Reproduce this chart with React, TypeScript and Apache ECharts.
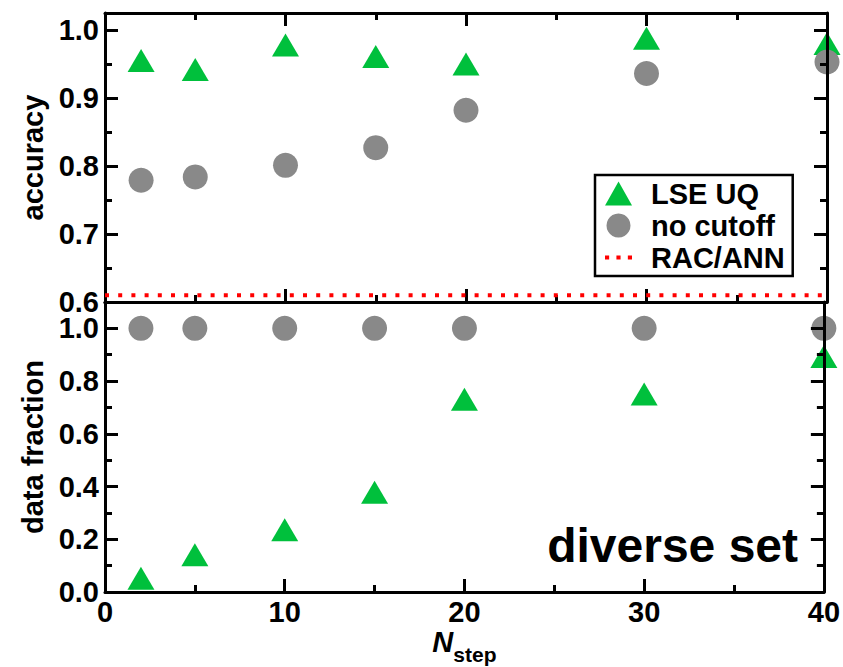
import React, { useEffect, useRef } from "react";
import * as echarts from "echarts";

const nSteps = [2, 5, 10, 15, 20, 30, 40];
const accuracyLSE = [0.955, 0.942, 0.978, 0.961, 0.95, 0.988, 0.98];
const accuracyNoCutoff = [0.779, 0.784, 0.801, 0.827, 0.882, 0.936, 0.953];
const racAnnAccuracy = 0.61;
const fractionLSE = [0.052, 0.141, 0.236, 0.378, 0.731, 0.751, 0.893];
const fractionNoCutoff = [1, 1, 1, 1, 1, 1, 1];
const xRange = [0, 40];

const FONT = "'Liberation Sans', Arial, Helvetica, sans-serif";
const GREEN = "#00c03c";
const GRAY = "#898989";

const pairs = (xs: number[], ys: number[]) => xs.map((x, i) => [x, ys[i]]);

export default function App() {
  const ref = useRef<HTMLDivElement>(null);
  useEffect(() => {
    document.body.style.margin = "0";
    const chart = echarts.init(ref.current!, null, { renderer: "svg" });
    const axisLine = { show: true, onZero: false, lineStyle: { color: "#000", width: 3 } };
    const tick = (show: boolean) => ({
      show,
      inside: true,
      length: 13,
      lineStyle: { color: "#000", width: 3 },
    });
    const minor = (show: boolean) => ({
      show,
      splitNumber: 2,
      length: 7,
      lineStyle: { color: "#000", width: 3 },
    });
    const labelStyle = {
      fontSize: 29,
      fontWeight: "bold" as const,
      fontFamily: FONT,
      color: "#000",
      lineHeight: 20,
    };
    const xBase = (gridIndex: number, position: string, showLabel: boolean, showTick: boolean) => ({
      type: "value" as const,
      gridIndex,
      position,
      min: xRange[0],
      max: xRange[1],
      interval: 10,
      z: 3,
      axisLine,
      axisTick: tick(showTick),
      minorTick: minor(showTick),
      splitLine: { show: false },
      axisLabel: showLabel ? { ...labelStyle, margin: 10 } : { show: false },
    });
    const yBase = (
      gridIndex: number,
      position: string,
      min: number,
      max: number,
      interval: number,
      showLabel: boolean
    ) => ({
      type: "value" as const,
      gridIndex,
      position,
      min,
      max,
      interval,
      z: 3,
      axisLine,
      axisTick: tick(true),
      minorTick: minor(true),
      splitLine: { show: false },
      axisLabel: showLabel
        ? {
            ...labelStyle,
            margin: 6,
            showMaxLabel: false,
            formatter: (v: number) => v.toFixed(1),
          }
        : { show: false },
    });

    const option: any = {
      animation: false,
      backgroundColor: "#fff",
      grid: [
        { left: 105, right: 16, top: 13, height: 289 },
        { left: 105, right: 16, top: 302, height: 290 },
      ],
      xAxis: [
        xBase(0, "bottom", false, true),
        xBase(0, "top", false, true),
        {
          ...xBase(1, "bottom", true, true),
          name: "{n|N}{s|step}",
          nameLocation: "middle",
          nameGap: 35,
          nameTextStyle: {
            rich: {
              n: {
                fontSize: 29,
                fontWeight: "bold",
                fontStyle: "italic",
                fontFamily: FONT,
                color: "#000",
                verticalAlign: "top",
                lineHeight: 30,
              },
              s: {
                fontSize: 21,
                fontWeight: "bold",
                fontFamily: FONT,
                color: "#000",
                verticalAlign: "top",
                lineHeight: 21,
                padding: [17, 0, 0, 0],
              },
            },
          },
        },
        xBase(1, "top", false, false),
      ],
      yAxis: [
        {
          ...yBase(0, "left", 0.6, 1.025, 0.1, true),
          name: "accuracy",
          nameLocation: "middle",
          nameGap: 50,
          nameTextStyle: { ...labelStyle, fontSize: 29, lineHeight: 29 },
        },
        yBase(0, "right", 0.6, 1.025, 0.1, false),
        {
          ...yBase(1, "left", 0, 1.1, 0.2, true),
          name: "data fraction",
          nameLocation: "middle",
          nameGap: 50,
          nameTextStyle: { ...labelStyle, fontSize: 29, lineHeight: 29 },
        },
        yBase(1, "right", 0, 1.1, 0.2, false),
      ],
      legend: {
        orient: "vertical",
        left: 595,
        top: 175,
        data: [
          { name: "LSE UQ", icon: "triangle" },
          { name: "no cutoff", icon: "circle" },
          {
            name: "RAC/ANN",
            icon: "path://M0,0h4v4h-4z M11,0h4v4h-4z M22,0h4v4h-4z",
            itemStyle: { color: "#ff0000" },
          },
        ],
        itemWidth: 27,
        itemHeight: 24,
        itemGap: 3,
        padding: [4, 8, 4, 10],
        borderColor: "#000",
        borderWidth: 2.5,
        borderRadius: 0,
        textStyle: {
          fontSize: 29,
          fontWeight: "bold",
          fontFamily: FONT,
          color: "#000",
          padding: [0, 0, 0, 14],
          lineHeight: 28,
        },
      },
      graphic: [
        {
          type: "text",
          x: 798,
          y: 545,
          z: 10,
          style: {
            text: "diverse set",
            fontSize: 48,
            fontWeight: "bold",
            fontFamily: FONT,
            fill: "#000",
            textAlign: "right",
            textVerticalAlign: "middle",
          },
        },
      ],
      series: [
        {
          name: "RAC/ANN",
          type: "line",
          xAxisIndex: 0,
          yAxisIndex: 0,
          data: [
            [xRange[0], racAnnAccuracy],
            [xRange[1], racAnnAccuracy],
          ],
          symbol: "none",
          lineStyle: { color: "#ff0000", width: 4, type: [4, 9.2] },
          itemStyle: { color: "#ff0000" },
          clip: false,
        },
        {
          name: "LSE UQ",
          type: "scatter",
          xAxisIndex: 0,
          yAxisIndex: 0,
          data: pairs(nSteps, accuracyLSE),
          symbol: "triangle",
          symbolSize: [27, 23],
          itemStyle: { color: GREEN, opacity: 1 },
          clip: false,
        },
        {
          name: "no cutoff",
          type: "scatter",
          xAxisIndex: 0,
          yAxisIndex: 0,
          data: pairs(nSteps, accuracyNoCutoff),
          symbol: "circle",
          symbolSize: 25,
          itemStyle: { color: GRAY, opacity: 1 },
          clip: false,
        },
        {
          name: "LSE UQ",
          type: "scatter",
          xAxisIndex: 2,
          yAxisIndex: 2,
          data: pairs(nSteps, fractionLSE),
          symbol: "triangle",
          symbolSize: [27, 23],
          itemStyle: { color: GREEN, opacity: 1 },
          clip: false,
        },
        {
          name: "no cutoff",
          type: "scatter",
          xAxisIndex: 2,
          yAxisIndex: 2,
          data: pairs(nSteps, fractionNoCutoff),
          symbol: "circle",
          symbolSize: 25,
          itemStyle: { color: GRAY, opacity: 1 },
          clip: false,
        },
      ],
    };
    chart.setOption(option);
    return () => chart.dispose();
  }, []);
  return <div ref={ref} style={{ width: 843, height: 667 }} />;
}
